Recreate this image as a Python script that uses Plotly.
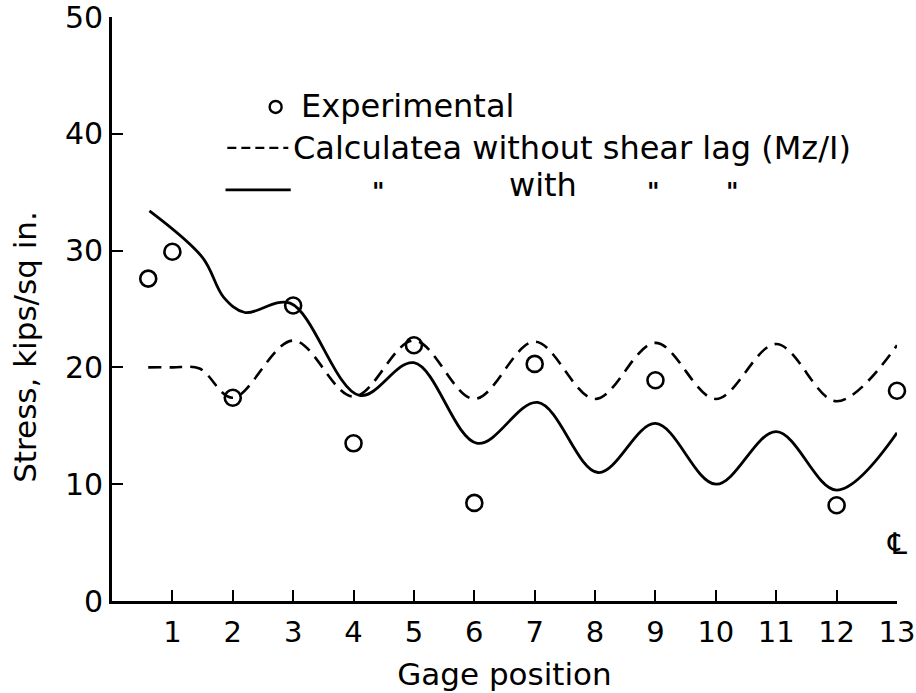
import plotly.graph_objects as go

# Experimental stresses (kips/sq in.) at gage positions
exp_x = [0.6, 1, 2, 3, 4, 5, 6, 7, 9, 12, 13]
exp_y = [27.6, 29.9, 17.4, 25.3, 13.5, 21.9, 8.4, 20.3, 18.9, 8.2, 18.0]

# Calculated without shear lag (Mz/I)
noshear_x = [0.6, 1.0, 1.45, 2, 3, 4, 5, 6, 7, 8, 9, 10, 11, 12, 13]
noshear_y = [20.0, 20.0, 19.9, 17.4, 22.3, 17.5, 22.3, 17.3, 22.2, 17.3, 22.1, 17.3, 22.0, 17.1, 21.9]

# Calculated with shear lag
shear_x = [0.62, 1.5, 1.85, 2.2, 2.95, 4.1, 5.0, 6.05, 7.05, 8.05, 9.0, 10.0, 11.0, 12.0, 13.0]
shear_y = [33.4, 29.4, 26.0, 24.7, 25.5, 17.6, 20.4, 13.5, 17.0, 11.0, 15.2, 10.0, 14.5, 9.5, 14.4]

x_ticks = list(range(1, 14))
y_ticks = [0, 10, 20, 30, 40, 50]

FONT = "DejaVu Sans"
INK = "black"

fig = go.Figure()

fig.add_trace(go.Scatter(
    x=noshear_x, y=noshear_y, mode="lines",
    line=dict(color=INK, width=2.6, dash="13px,8px", shape="spline", smoothing=1.0),
    showlegend=False, hoverinfo="skip"))
fig.add_trace(go.Scatter(
    x=shear_x, y=shear_y, mode="lines",
    line=dict(color=INK, width=2.8, shape="spline", smoothing=1.0),
    showlegend=False, hoverinfo="skip"))
fig.add_trace(go.Scatter(
    x=exp_x, y=exp_y, mode="markers",
    marker=dict(symbol="circle-open", size=16, color=INK, line=dict(width=2.6, color=INK)),
    cliponaxis=False, showlegend=False))

# Legend drawn by hand (data coordinates of the fixed axes)
fig.add_trace(go.Scatter(
    x=[2.71], y=[42.3], mode="markers",
    marker=dict(symbol="circle-open", size=12, color=INK, line=dict(width=2.4, color=INK)),
    showlegend=False, hoverinfo="skip"))
fig.add_shape(type="line", x0=1.91, x1=2.92, y0=38.8, y1=38.8,
              line=dict(color=INK, width=2.2, dash="9px,5px"))
fig.add_shape(type="line", x0=1.88, x1=2.96, y0=35.2, y1=35.2,
              line=dict(color=INK, width=2.6))

legend_font = dict(family=FONT, size=32, color=INK)
fig.add_annotation(x=3.1, y=42.4, text="Experimental", showarrow=False,
                   xanchor="left", yanchor="middle", font=legend_font)
fig.add_annotation(x=2.97, y=38.8, text="Calculatea without shear lag (Mz/I)",
                   showarrow=False, xanchor="left", yanchor="middle", font=legend_font)
for dx in [4.41, 8.96, 10.28]:
    fig.add_annotation(x=dx, y=35.0, text='<b>"</b>', showarrow=False,
                       xanchor="center", yanchor="middle",
                       font=dict(family=FONT, size=24, color=INK))
fig.add_annotation(x=7.14, y=35.6, text="with", showarrow=False,
                   xanchor="center", yanchor="middle", font=legend_font)

# Centre-line symbol at gage 13
fig.add_annotation(x=13, y=4.9, text="\u2104", showarrow=False,
                   xanchor="center", yanchor="middle",
                   font=dict(family=FONT, size=30, color=INK))

# Y-axis title (placed like the original, a little below the axis centre)
fig.add_annotation(xref="paper", yref="paper", x=-0.111, y=0.435,
                   text="Stress, kips/sq in.", textangle=-90, showarrow=False,
                   xanchor="center", yanchor="middle",
                   font=dict(family=FONT, size=31, color=INK))

axis_common = dict(
    showgrid=False, zeroline=False, showline=True, linecolor=INK, linewidth=2.6,
    ticks="inside", ticklen=11, tickwidth=2, tickcolor=INK, automargin=False,
    ticklabeloverflow="allow",
)

fig.update_layout(
    width=916, height=693,
    margin=dict(l=112, r=19, t=17, b=92),
    paper_bgcolor="white", plot_bgcolor="white",
    xaxis=dict(range=[0, 13], tickvals=x_ticks, ticktext=[str(v) for v in x_ticks],
               ticklabelstandoff=3,
               tickfont=dict(family=FONT, size=29, color=INK),
               title=dict(text="Gage position", font=dict(family=FONT, size=31, color=INK),
                          standoff=16),
               **axis_common),
    yaxis=dict(range=[0, 50], tickvals=y_ticks, ticktext=[str(v) for v in y_ticks],
               ticklabelstandoff=0,
               tickfont=dict(family=FONT, size=30, color=INK),
               **axis_common),
)

# let the figure fill the 916x693 window exactly (no default 8px page margin)
fig.write_html("out.html", config={"displayModeBar": False},
               post_script="document.body.style.margin='0';document.body.style.overflow='hidden';")
